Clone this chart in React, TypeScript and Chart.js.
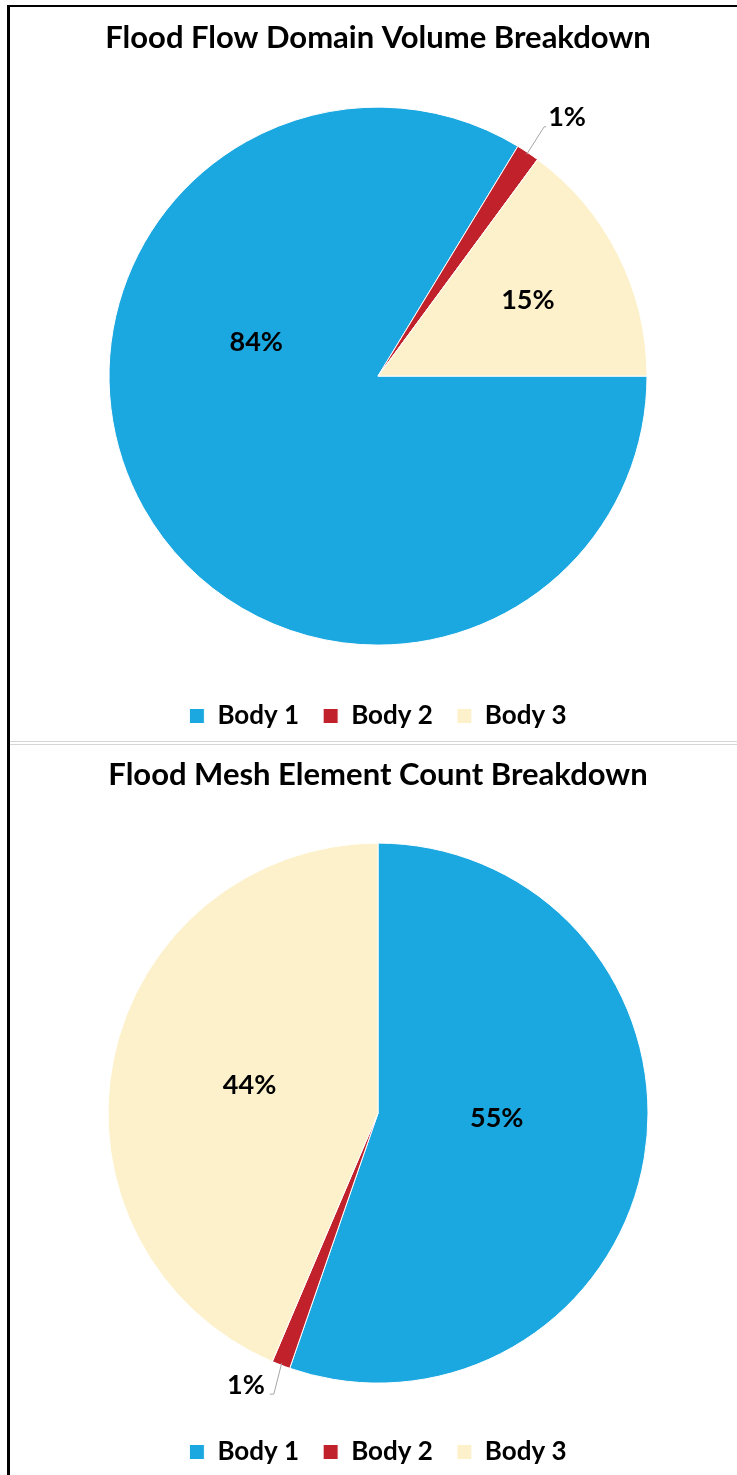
import React, { useEffect, useRef } from "react";
import { Chart, registerables } from "chart.js";

Chart.register(...registerables);

// Slice categories shared by both pies
const categories = ["Body 1", "Body 2", "Body 3"];

// Share of the flood flow domain volume per body (%)
const volumeShares = [83.7, 1.4, 14.9];

// Share of the flood mesh element count per body (%)
const elementShares = [55.3, 1.1, 43.6];

const sliceColors = ["#1BA7E0", "#C1212B", "#FDF1CB"];

const FONT = "Lato, 'Open Sans', sans-serif";

type Placement = { angle: number; radius: number; leader?: boolean };

// Where each percentage label sits: angle clockwise from 12 o'clock, distance as a fraction of the radius
const volumeLabelPlacement: Placement[] = [
  { angle: 285.6, radius: 0.47 },
  { angle: 36.2, radius: 1.19, leader: true },
  { angle: 63.1, radius: 0.625 },
];
const elementLabelPlacement: Placement[] = [
  { angle: 92.4, radius: 0.44 },
  { angle: 205.9, radius: 1.12, leader: true },
  { angle: 282.3, radius: 0.487 },
];

// Draws the "nn%" labels and leader lines for small slices
const pieLabels = {
  id: "pieLabels",
  afterDatasetsDraw(chart: any, _args: any, opts: any) {
    const meta = chart.getDatasetMeta(0);
    const values = chart.data.datasets[0].data as number[];
    const total = values.reduce((a, b) => a + b, 0);
    const ctx: CanvasRenderingContext2D = chart.ctx;
    ctx.save();
    ctx.font = `bold ${opts.size}px ${FONT}`;
    ctx.fillStyle = "#000";
    ctx.textAlign = "center";
    ctx.textBaseline = "middle";
    meta.data.forEach((arc: any, i: number) => {
      const { x, y, outerRadius, startAngle, endAngle } = arc.getProps(
        ["x", "y", "outerRadius", "startAngle", "endAngle"],
        true
      );
      const p: Placement = opts.placements[i];
      const a = ((p.angle - 90) * Math.PI) / 180;
      const lx = x + Math.cos(a) * outerRadius * p.radius;
      const ly = y + Math.sin(a) * outerRadius * p.radius;
      const text = `${Math.round((values[i] / total) * 100)}%`;
      ctx.fillText(text, lx, ly);
      if (p.leader) {
        const mid = (startAngle + endAngle) / 2;
        const sx = x + Math.cos(mid) * (outerRadius - 2);
        const sy = y + Math.sin(mid) * (outerRadius - 2);
        const w = ctx.measureText(text).width;
        const leftOfSlice = lx < sx;
        const ex = leftOfSlice ? lx + w / 2 + 9 : lx - w / 2 - 4;
        const ey = ly + 9;
        const hx = leftOfSlice ? ex - 4 : ex + 2;
        ctx.strokeStyle = "#A6A6A6";
        ctx.lineWidth = 1;
        ctx.beginPath();
        ctx.moveTo(sx, sy);
        ctx.lineTo(ex, ey);
        ctx.lineTo(hx, ey);
        ctx.stroke();
      }
    });
    ctx.restore();
  },
};

type PieProps = {
  top: number;
  height: number;
  title: string;
  values: number[];
  rotation: number;
  placements: Placement[];
  titlePad: { top: number; bottom: number };
  bottomPad: number;
  radius: number;
};

function PieChart(props: PieProps) {
  const ref = useRef<HTMLCanvasElement>(null);
  useEffect(() => {
    const chart = new Chart(ref.current as HTMLCanvasElement, {
      type: "pie",
      data: {
        labels: categories,
        datasets: [
          {
            data: props.values,
            backgroundColor: sliceColors,
            borderColor: "#ffffff",
            borderWidth: 1,
          },
        ],
      },
      plugins: [pieLabels],
      options: {
        responsive: false,
        animation: false,
        rotation: props.rotation,
        radius: props.radius,
        layout: { padding: { left: 19, right: 0, top: 0, bottom: props.bottomPad } },
        plugins: {
          tooltip: { enabled: false },
          title: {
            display: true,
            text: props.title,
            color: "#000",
            font: { family: FONT, size: 31, weight: "bold", lineHeight: 1.2 },
            padding: props.titlePad,
          },
          legend: {
            display: true,
            position: "bottom",
            labels: {
              color: "#000",
              boxWidth: 15,
              boxHeight: 15,
              padding: 24,
              font: { family: FONT, size: 26, weight: "bold" },
            },
          },
          pieLabels: { placements: props.placements, size: 27 },
        } as any,
      },
    });
    return () => chart.destroy();
  }, []);
  return (
    <canvas
      ref={ref}
      width={737}
      height={props.height}
      style={{ position: "absolute", left: 0, top: props.top, width: 737, height: props.height }}
    />
  );
}

export default function App() {
  return (
    <div style={{ position: "absolute", left: 0, top: 0, width: 737, height: 1475, background: "#fff", overflow: "hidden" }}>
      <PieChart
        top={6}
        height={735}
        title="Flood Flow Domain Volume Breakdown"
        values={volumeShares}
        rotation={90}
        placements={volumeLabelPlacement}
        titlePad={{ top: 13, bottom: 17 }}
        bottomPad={2}
        radius={269}
      />
      <PieChart
        top={744}
        height={731}
        title="Flood Mesh Element Count Breakdown"
        values={elementShares}
        rotation={0}
        placements={elementLabelPlacement}
        titlePad={{ top: 12, bottom: 18 }}
        bottomPad={0}
        radius={270}
      />
      {/* frame and divider */}
      <div style={{ position: "absolute", left: 7, top: 5, width: 3, height: 1470, background: "#000" }} />
      <div style={{ position: "absolute", left: 7, top: 5, width: 730, height: 2, background: "#000" }} />
      <div style={{ position: "absolute", left: 10, top: 741, width: 727, height: 1, background: "#D6D6D6" }} />
      <div style={{ position: "absolute", left: 10, top: 744, width: 727, height: 1, background: "#D6D6D6" }} />
    </div>
  );
}
